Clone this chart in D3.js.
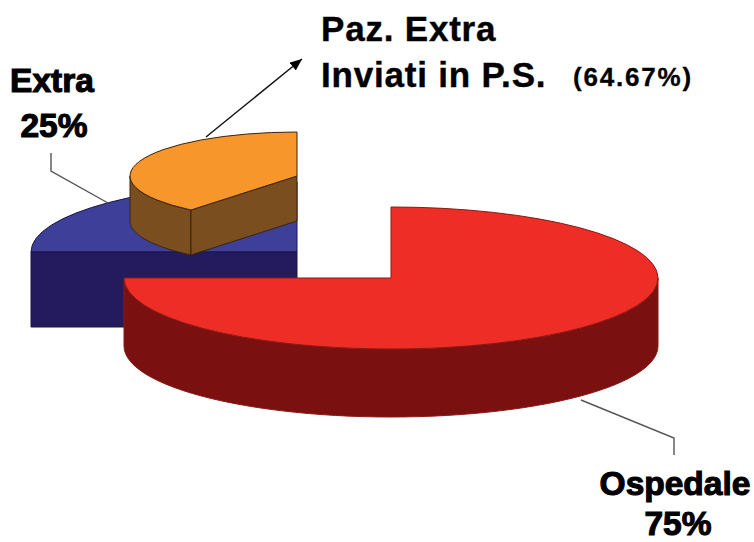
<!DOCTYPE html>
<html><head><meta charset="utf-8">
<script src="https://cdn.jsdelivr.net/npm/d3@7"></script>
<style>html,body{margin:0;background:#fff}svg{display:block}text{font-family:"Liberation Sans",Arial,sans-serif;font-weight:700;fill:#000}</style>
</head><body><svg id="c" width="754" height="542"></svg>
<script>
const categories = ["Ospedale", "Extra"];
const shares = [75, 25];
const subCategories = ["Paz. Extra Inviati in P.S.", "Altri"];
const subShares = [64.67, 35.33];

const svg = d3.select("#c");
const TAU = Math.PI * 2;
const red = {cx:391, cy:278, rx:267, ry:71, depth:68, top:"#ee2e26", side:"#7a1010", line:"#8a1a14"};
const blue = {cx:297, cy:252, rx:266, ry:70, depth:75, top:"#3d3f98", side:"#241a5e", line:"#1c1648"};
const orange = {cx:297, cy:176, rx:167, ry:44, depth:45, top:"#f7962b", side:"#7a4e1f", line:"#3a2510"};

const mainPie = d3.pie().sort(null);
const subPie = d3.pie().sort(null).startAngle(TAU).endAngle(TAU - 217.4 * Math.PI / 180);
const [redArc, blueArc] = mainPie(shares);
const [orangeArc] = subPie(subShares);

const px = (p, a) => p.cx + p.rx * Math.sin(a);
const py = (p, a) => p.cy - p.ry * Math.cos(a);

function topFace(p, arc) {
  svg.append("path")
    .attr("transform", `translate(${p.cx},${p.cy}) scale(1,${p.ry / p.rx})`)
    .attr("d", d3.arc().innerRadius(0).outerRadius(p.rx)(arc))
    .attr("fill", p.top).attr("stroke", p.line).attr("stroke-width", 1)
    .style("vector-effect", "non-scaling-stroke");
}
function outerSide(p, a0, a1) {
  const angles = d3.range(0, 61).map(i => a0 + (a1 - a0) * i / 60);
  const area = d3.area().x(a => px(p, a)).y0(a => py(p, a)).y1(a => py(p, a) + p.depth);
  svg.append("path").attr("d", area(angles))
    .attr("fill", p.side).attr("stroke", p.line).attr("stroke-width", 1);
}
function radialFace(p, a) {
  const pts = [[p.cx, p.cy], [px(p, a), py(p, a)], [px(p, a), py(p, a) + p.depth], [p.cx, p.cy + p.depth]];
  svg.append("path").attr("d", d3.line()(pts) + "Z")
    .attr("fill", p.side).attr("stroke", p.line).attr("stroke-width", 1);
}

// Extra slice
topFace(blue, blueArc);
radialFace(blue, blueArc.startAngle);

// Exploded orange sub-slice
outerSide(orange, orangeArc.endAngle, Math.PI * 1.5);
radialFace(orange, orangeArc.endAngle);
topFace(orange, orangeArc);

// Ospedale slice
outerSide(red, Math.PI / 2, redArc.endAngle);
topFace(red, redArc);

// Leaders
const leader = d3.line();
svg.append("path").attr("d", leader([[51, 153], [51, 171], [108, 203]]))
  .attr("fill", "none").attr("stroke", "#555").attr("stroke-width", 1.4);
svg.append("path").attr("d", leader([[581, 400], [674, 438], [674, 455]]))
  .attr("fill", "none").attr("stroke", "#555").attr("stroke-width", 1.4);
svg.append("defs").append("marker").attr("id", "ah").attr("markerUnits", "userSpaceOnUse")
  .attr("viewBox", "0 0 12 10").attr("refX", 12).attr("refY", 5)
  .attr("markerWidth", 12).attr("markerHeight", 10).attr("orient", "auto")
  .append("path").attr("d", "M0,0L12,5L0,10Z").attr("fill", "#000");
svg.append("path").attr("d", leader([[206, 137], [302, 59]]))
  .attr("stroke", "#111").attr("stroke-width", 1.4).attr("marker-end", "url(#ah)");

// Labels
const label = (t, x, y, size, anchor, weight, spacing) => svg.append("text")
  .attr("x", x).attr("y", y).attr("font-size", size).attr("text-anchor", anchor)
  .attr("letter-spacing", spacing || 0)
  .attr("stroke", "#000").attr("stroke-width", weight).text(t);
label("Paz. Extra", 321, 41, 35, "start", 0.4, 0.8);
label("Inviati in P.S.", 321, 87, 35, "start", 0.4, 0.8);
label("(64.67%)", 573, 86, 26, "start", 0.3, 1.8);
label(categories[1], 52, 92, 33.5, "middle", 1.1);
label(shares[1] + "%", 54, 137, 33.5, "middle", 1.1);
label(categories[0], 675, 495, 33.5, "middle", 1.1);
label(shares[0] + "%", 678, 534.5, 33.5, "middle", 1.1);
</script></body></html>
